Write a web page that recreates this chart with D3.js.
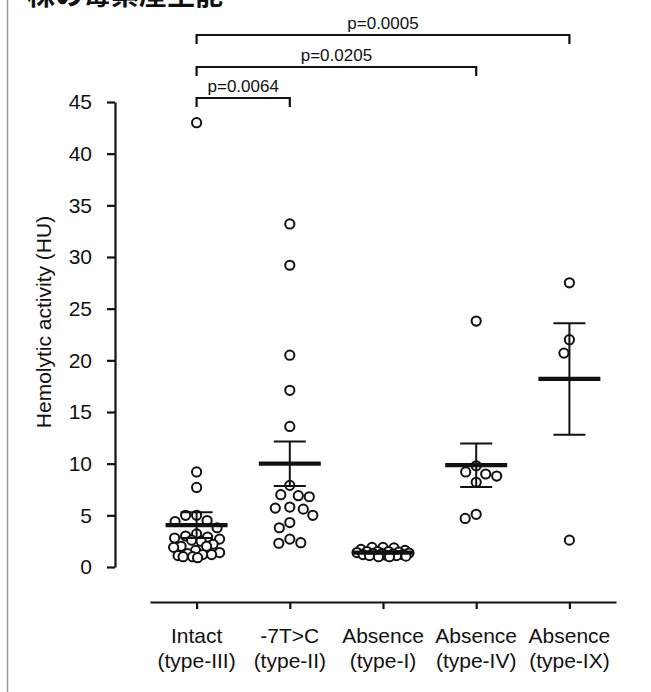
<!DOCTYPE html>
<html>
<head>
<meta charset="utf-8">
<script src="https://cdn.jsdelivr.net/npm/d3@7"></script>
<style>
  html, body { margin: 0; padding: 0; background: #fff; }
  svg { display: block; }
  text { font-family: "Liberation Sans", Arial, Helvetica, sans-serif; fill: #111; }
</style>
</head>
<body>
<svg id="chart" width="651" height="692"></svg>
<script>
// ---- data ----
const categories = ["Intact|(type-III)", "-7T>C|(type-II)", "Absence|(type-I)", "Absence|(type-IV)", "Absence|(type-IX)"];
const intactValues = [43, 9.2, 7.7, 5.0, 5.0, 4.5, 4.4, 3.8, 3.2, 3.0, 2.9, 2.8, 2.7, 2.6, 2.5, 2.2, 2.0, 2.0, 1.9, 1.6, 1.4, 1.3, 1.2, 1.2, 1.1, 1.0, 0.9, 1.0];
const t7cValues = [33.2, 29.2, 20.5, 17.1, 13.6, 7.9, 6.9, 7.0, 6.8, 5.8, 5.6, 5.7, 5.0, 4.3, 3.8, 2.7, 2.3, 2.35];
const typeIValues = [1.9, 1.9, 1.85, 1.7, 1.6, 1.5, 1.5, 1.45, 1.4, 1.35, 1.3, 1.25, 1.2, 1.2, 1.15, 1.1, 1.05, 1.0, 1.0, 1.3, 1.5, 1.1];
const typeIVValues = [23.8, 9.8, 9.2, 9.0, 8.8, 8.2, 5.1, 4.7];
const typeIXValues = [27.5, 22.0, 20.7, 2.6];
const means = [4.05, 10.0, 1.4, 9.85, 18.2];
const sems = [1.25, 2.15, 0.1, 2.1, 5.4];
const yTicks = [0, 5, 10, 15, 20, 25, 30, 35, 40, 45];
const comparisons = [
  { from: 0, to: 1, label: "p=0.0064" },
  { from: 0, to: 3, label: "p=0.0205" },
  { from: 0, to: 4, label: "p=0.0005" }
];
const titleText = "株の毒素産生能";
const yTitle = "Hemolytic activity (HU)";

const groups = [intactValues, t7cValues, typeIValues, typeIVValues, typeIXValues];

// ---- layout ----
const svg = d3.select("#chart");
const x = d3.scalePoint().domain(categories).range([150, 616]).padding(0.5);
const y = d3.scaleLinear().domain([0, 45]).range([567, 102]);
const r = 4.6;
const maxSpread = [23, 23, 26, 23, 23];

// left border
svg.append("line").attr("x1", 7.5).attr("x2", 7.5).attr("y1", 0).attr("y2", 692)
  .attr("stroke", "#9a9a9a").attr("stroke-width", 1.5);

// title (cut off at top, as in the source image)
svg.append("text").attr("x", 27).attr("y", 5)
  .style("font-family", "'Noto Sans CJK JP', 'Noto Sans CJK SC', sans-serif")
  .style("font-weight", "bold").style("font-size", "28px").text(titleText);

// y axis
const yAxis = d3.axisLeft(y).tickValues(yTicks).tickSize(8).tickSizeOuter(0).tickPadding(15);
const gy = svg.append("g").attr("transform", "translate(115,0)").call(yAxis);
gy.select(".domain").attr("stroke", "#111").attr("stroke-width", 2.2);
gy.selectAll(".tick line").attr("stroke", "#111").attr("stroke-width", 2.2);
gy.selectAll(".tick text").style("font-size", "21px").style("font-family", "'Liberation Sans', Arial, sans-serif").attr("fill", "#111");

// y title
svg.append("text").attr("transform", "translate(51,322) rotate(-90)")
  .attr("text-anchor", "middle").style("font-size", "21px").text(yTitle);

// x axis
const xAxis = d3.axisBottom(x).tickSize(7).tickSizeOuter(0).tickFormat("");
const gx = svg.append("g").attr("transform", "translate(0,602)").call(xAxis);
gx.select(".domain").attr("stroke", "#111").attr("stroke-width", 2.2);
gx.selectAll(".tick line").attr("stroke", "#111").attr("stroke-width", 2.2);
categories.forEach(c => {
  const parts = c.split("|");
  const t = svg.append("text").attr("text-anchor", "middle").style("font-size", "21px");
  t.append("tspan").attr("x", x(c)).attr("y", 643).text(parts[0]);
  t.append("tspan").attr("x", x(c)).attr("y", 668).text(parts[1]);
});

// beeswarm placement limited to a maximum spread (overlap allowed when crowded)
function swarm(values, cx, maxOff) {
  const sorted = values.map((v, i) => ({ v, i })).sort((a, b) => b.v - a.v);
  const placed = [];
  const minD = 2 * r + 1.8;
  const vf = 0.72;
  const cands = [];
  for (let k = 0; k <= maxOff * 4; k++) {
    cands.push((k % 2 === 0 ? 1 : -1) * Math.ceil(k / 2) * 0.5);
  }
  sorted.forEach(d => {
    const py = y(d.v);
    let chosen = null, bestOff = 0, bestDist = -1;
    for (const off of cands) {
      const md = placed.length ? d3.min(placed, p => Math.hypot(p.x - (cx + off), (p.y - py) * vf)) : Infinity;
      if (md >= minD) { chosen = off; break; }
      if (md > bestDist + 0.01) { bestDist = md; bestOff = off; }
    }
    if (chosen === null) chosen = bestOff;
    placed.push({ x: cx + chosen, y: py, v: d.v });
  });
  return placed;
}

const gPts = svg.append("g");
groups.forEach((vals, gi) => {
  const pts = swarm(vals, x(categories[gi]), maxSpread[gi]);
  gPts.selectAll(null).data(pts).enter().append("circle")
    .attr("cx", d => d.x).attr("cy", d => d.y).attr("r", r)
    .attr("fill", "#fff").attr("stroke", "#111").attr("stroke-width", 2);
});

// mean & SEM
const gBars = svg.append("g").attr("stroke", "#111");
means.forEach((m, i) => {
  const cx = x(categories[i]);
  const hi = y(m + sems[i]), lo = y(m - sems[i]);
  gBars.append("line").attr("x1", cx).attr("x2", cx).attr("y1", hi).attr("y2", lo).attr("stroke-width", 2);
  gBars.append("line").attr("x1", cx - 16).attr("x2", cx + 16).attr("y1", hi).attr("y2", hi).attr("stroke-width", 2);
  gBars.append("line").attr("x1", cx - 16).attr("x2", cx + 16).attr("y1", lo).attr("y2", lo).attr("stroke-width", 2);
  gBars.append("line").attr("x1", cx - 31).attr("x2", cx + 31).attr("y1", y(m)).attr("y2", y(m)).attr("stroke-width", 4.2);
});

// significance brackets
const bracketY = [98, 67, 35];
comparisons.forEach((c, i) => {
  const x1 = x(categories[c.from]), x2 = x(categories[c.to]);
  const by = bracketY[i];
  svg.append("path")
    .attr("d", `M${x1},${by + 9}V${by}H${x2}V${by + 9}`)
    .attr("fill", "none").attr("stroke", "#111").attr("stroke-width", 2.2);
  svg.append("text").attr("x", (x1 + x2) / 2).attr("y", by - 6)
    .attr("text-anchor", "middle").style("font-size", "17px").text(c.label);
});
</script>
</body>
</html>
